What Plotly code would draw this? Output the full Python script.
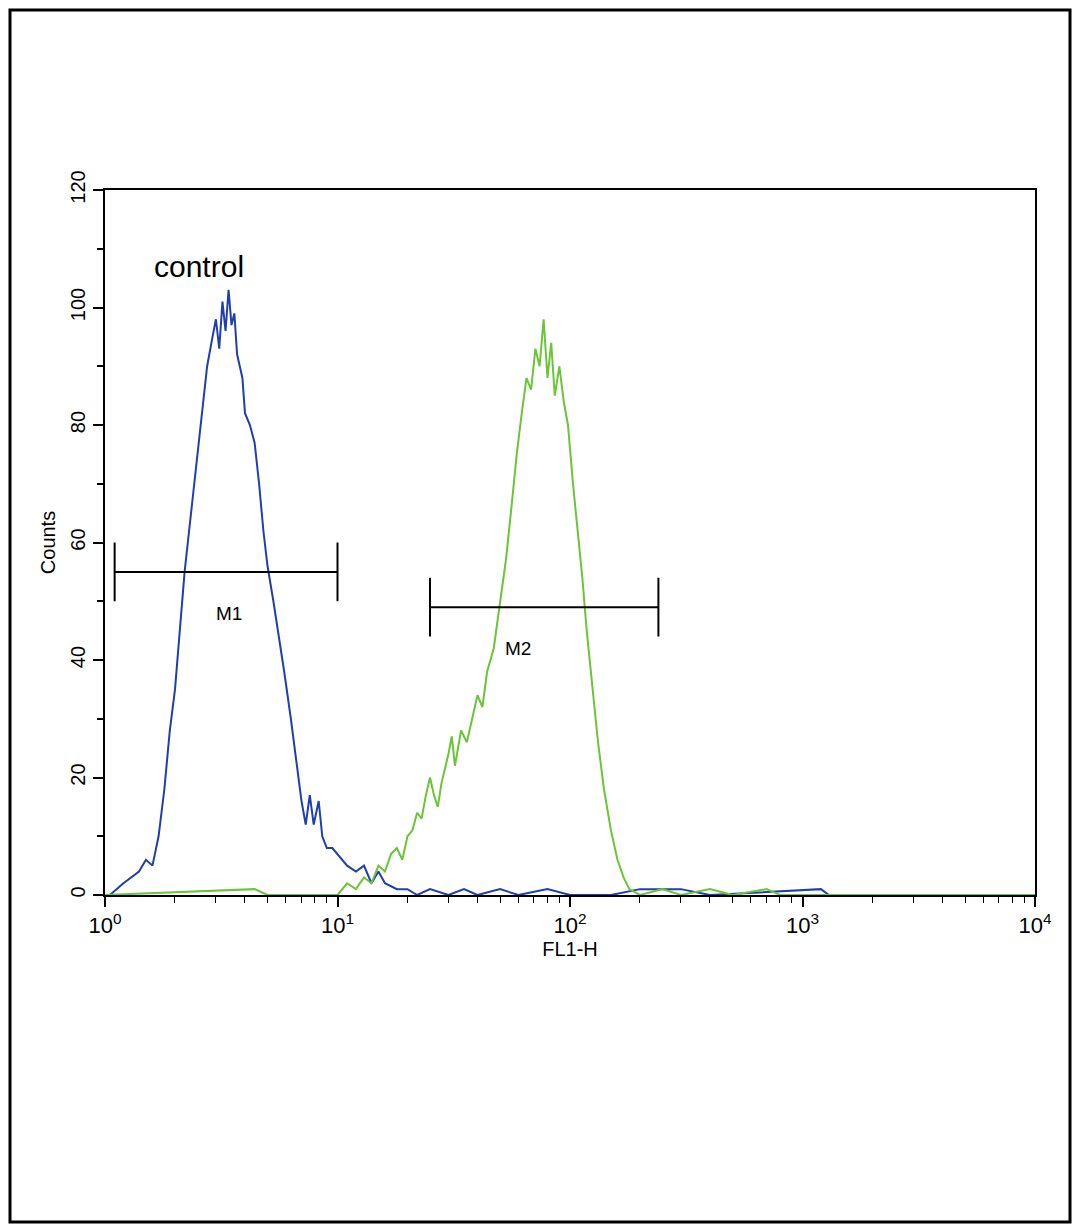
import math
import plotly.graph_objects as go

# blue (control) histogram
blue_x = [1.05, 1.2, 1.4, 1.5, 1.6, 1.7, 1.8, 1.9, 2.0, 2.1, 2.2, 2.3, 2.45, 2.6, 2.75, 2.9, 3.0, 3.1,
          3.2, 3.3, 3.4, 3.5, 3.6, 3.7, 3.9, 4.0, 4.2, 4.4, 4.6, 4.8, 5.0, 5.3, 5.6, 5.9, 6.3, 6.7,
          7.0, 7.3, 7.6, 7.9, 8.3, 8.6, 9.0, 9.5, 10, 11, 12, 13, 14, 15, 16, 18, 20, 22, 25, 30,
          35, 40, 50, 60, 80, 100, 150, 200, 300, 400, 1200, 1300, 10000]
blue_y = [0, 2, 4, 6, 5, 10, 18, 28, 35, 45, 55, 62, 72, 82, 90, 95, 98, 93,
          101, 96, 103, 97, 99, 92, 88, 82, 80, 77, 70, 62, 56, 50, 44, 38, 30, 22,
          16, 12, 17, 12, 16, 10, 8, 8, 7, 5, 4, 5, 2, 4, 2, 1, 1, 0, 1, 0,
          1, 0, 1, 0, 1, 0, 0, 1, 1, 0, 1, 0, 0]

# green (sample) histogram
green_x = [1, 4.4, 5, 10, 11, 12, 13, 14, 15, 16, 17, 18, 19, 20, 21, 22, 23, 24, 25, 26, 27, 28,
           30, 31, 32, 34, 36, 38, 40, 42, 44, 47, 50, 53, 56, 59, 62, 65, 68, 71, 74, 77, 80,
           83, 86, 90, 94, 98, 103, 108, 113, 118, 125, 132, 140, 150, 160, 170, 180, 200, 250,
           300, 400, 500, 700, 800, 10000]
green_y = [0, 1, 0, 0, 2, 1, 3, 2, 5, 4, 7, 8, 6, 10, 11, 14, 13, 17, 20, 17, 15, 19,
           24, 27, 22, 28, 26, 30, 34, 32, 38, 42, 50, 57, 66, 75, 82, 88, 86, 93, 90, 98, 88,
           94, 85, 90, 84, 80, 70, 62, 54, 45, 35, 26, 18, 11, 6, 3, 1, 0, 1,
           0, 1, 0, 1, 0, 0]

markers = {"M1": (1.1, 10, 55, 3.4, 48), "M2": (25, 240, 49, 60, 42)}

major_vals = [1, 10, 100, 1000, 10000]
minor_vals = [m * d for d in (1, 10, 100, 1000) for m in range(2, 10)]

font = "Liberation Sans, Arial, sans-serif"
fig = go.Figure()
fig.add_trace(go.Scatter(x=blue_x, y=blue_y, mode="lines", line=dict(color="#1f3fb0", width=2)))
fig.add_trace(go.Scatter(x=green_x, y=green_y, mode="lines", line=dict(color="#6cc437", width=2)))

for name, (x0, x1, y, lx, ly) in markers.items():
    fig.add_trace(go.Scatter(x=[x0, x1], y=[y, y], mode="lines", line=dict(color="black", width=2)))
    for xe in (x0, x1):
        fig.add_trace(go.Scatter(x=[xe, xe], y=[y - 5, y + 5], mode="lines", line=dict(color="black", width=2)))
    fig.add_annotation(x=math.log10(lx), y=ly, xref="x", yref="y", text=name, showarrow=False,
                       font=dict(size=19, color="black", family=font), xanchor="center")

fig.add_annotation(x=0.05, y=107, xref="x domain", yref="y", text="control", showarrow=False,
                   xanchor="left", font=dict(size=30, color="black", family=font))

fig.update_xaxes(type="log", range=[0, 4], tickvals=major_vals,
                 ticktext=["10<sup>0</sup>", "10<sup>1</sup>", "10<sup>2</sup>", "10<sup>3</sup>", "10<sup>4</sup>"],
                 ticks="outside", ticklen=10, tickwidth=2, tickcolor="black",
                 minor=dict(ticks="outside", ticklen=6, tickcolor="black", tickwidth=1, showgrid=False,
                            tickvals=minor_vals),
                 showline=True, linecolor="black", linewidth=2, mirror=True, showgrid=False, zeroline=False,
                 title=dict(text="FL1-H", font=dict(size=20, family=font, color="black"), standoff=2),
                 tickfont=dict(size=22, family=font, color="black"))
fig.update_yaxes(range=[0, 120], dtick=20, ticks="outside", ticklen=10, tickwidth=2, tickcolor="black",
                 minor=dict(ticks="outside", ticklen=6, tickcolor="black", dtick=10),
                 showline=True, linecolor="black", linewidth=2, mirror=True, showgrid=False, zeroline=False,
                 title=dict(text="Counts", font=dict(size=20, family=font, color="black"), standoff=6),
                 tickfont=dict(size=20, family=font, color="black"), tickangle=-90)

W, H = 930, 705
fig.add_shape(type="rect", xref="paper", yref="paper",
              x0=-95 / W, x1=1 + 35 / W, y0=-327 / H, y1=1 + 180 / H,
              line=dict(color="black", width=3))

fig.update_layout(width=1064, height=1216, margin=dict(l=97, r=37, t=182, b=329),
                  plot_bgcolor="white", paper_bgcolor="white", showlegend=False)
fig.write_html("out.html")
